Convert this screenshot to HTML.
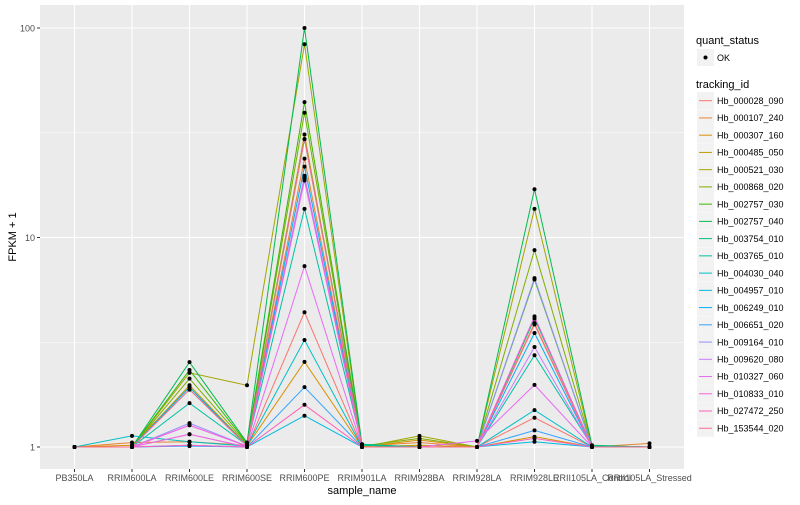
<!DOCTYPE html>
<html><head><meta charset="utf-8"><style>
body{margin:0;background:#fff;font-family:"Liberation Sans",sans-serif;}
svg text{font-family:"Liberation Sans",sans-serif;}
</style></head><body>
<svg id="chart" width="800" height="500" xmlns="http://www.w3.org/2000/svg"></svg>
<script>
const categories=["PB350LA","RRIM600LA","RRIM600LE","RRIM600SE","RRIM600PE","RRIM901LA","RRIM928BA","RRIM928LA","RRIM928LE","RRII105LA_Control","RRII105LA_Stressed"];
const seriesNames=["Hb_000028_090","Hb_000107_240","Hb_000307_160","Hb_000485_050","Hb_000521_030","Hb_000868_020","Hb_002757_030","Hb_002757_040","Hb_003754_010","Hb_003765_010","Hb_004030_040","Hb_004957_010","Hb_006249_010","Hb_006651_020","Hb_009164_010","Hb_009620_080","Hb_010327_060","Hb_010833_010","Hb_027472_250","Hb_153544_020"];
const seriesColors=["#F8766D","#EA8331","#D89000","#C09B00","#A3A500","#7CAE00","#39B600","#00BB4E","#00BF7D","#00C1A3","#00BFC4","#00BAE0","#00B0F6","#35A2FF","#9590FF","#C77CFF","#E76BF3","#FA62DB","#FF62BC","#FF6C91"];
const s01=[1,1,1.15,1,4.4,1,1,1,1.38,1,1];
const s02=[1,1.05,1.06,1.02,23.8,1.01,1.05,1,3.9,1,1.04];
const s03=[1,1.02,1.93,1.01,2.55,1,1.08,1,1.12,1,1];
const s04=[1,1,1.97,1.02,31,1,1.02,1,3.85,1,1];
const s05=[1,1,2.26,1.97,83.6,1,1.13,1,13.7,1,1];
const s06=[1,1,2.12,1.03,39.4,1.01,1.1,1,8.7,1,1];
const s07=[1,1,2.33,1.04,44.3,1.02,1,1,6.3,1,1];
const s08=[1,1,2.54,1.05,100,1.03,1,1,17.0,1.02,1];
const s09=[1,1,1.88,1.02,29.5,1.03,1,1,4.1,1.01,1];
const s10=[1,1,1.62,1.02,13.7,1.02,1,1,2.74,1.01,1];
const s11=[1,1.13,1.06,1.01,3.24,1,1,1,1.5,1,1];
const s12=[1,1,1.02,1,1.41,1,1,1,1.06,1,1];
const s13=[1,1,1.93,1.01,21.8,1,1,1,3.5,1,1];
const s14=[1,1,1.01,1,1.93,1,1,1,1.2,1,1];
const s15=[1,1,1.30,1.01,19.7,1,1,1,6.4,1,1];
const s16=[1,1,1.27,1.01,18.7,1,1,1,3.0,1,1];
const s17=[1,1,1.15,1,7.3,1,1,1.07,1.98,1,1];
const s18=[1,1,1.27,1.01,19.2,1,1,1,4.2,1,1];
const s19=[1,1,1.02,1,1.59,1,1,1,1.1,1,1];
const s20=[1,1,1.88,1.01,29.5,1,1,1,3.85,1,1];
const seriesValues=[s01,s02,s03,s04,s05,s06,s07,s08,s09,s10,s11,s12,s13,s14,s15,s16,s17,s18,s19,s20];
const yTicks=[1,10,100];
const yTickLabels=["1","10","100"];
const yMinor=[Math.sqrt(10),Math.sqrt(1000)];

const NS="http://www.w3.org/2000/svg";
const svg=document.getElementById('chart');
const P={l:40,r:684,t:5,b:469};
function xScale(i){return 74.5+57.5*i;}
function yScale(v){return 447-209.5*Math.log10(v);}
function mk(tag,attrs,parent){const e=document.createElementNS(NS,tag);for(const k in attrs)e.setAttribute(k,attrs[k]);(parent||svg).appendChild(e);return e;}

const panel=mk('rect',{x:P.l,y:P.t,width:P.r-P.l,height:P.b-P.t,fill:'#EBEBEB'});


yMinor.forEach(v=>{const l=mk('line',{x1:P.l,x2:P.r,y1:yScale(v),y2:yScale(v),stroke:'#fff','stroke-width':0.6});

});
yTicks.forEach((v,i)=>{const l=mk('line',{x1:P.l,x2:P.r,y1:yScale(v),y2:yScale(v),stroke:'#fff','stroke-width':1.1});


const tk=mk('line',{x1:P.l-3,x2:P.l,y1:yScale(v),y2:yScale(v),stroke:'#333','stroke-width':1});


const t=mk('text',{x:P.l-5,y:yScale(v)+3.5,'font-size':9,fill:'#4D4D4D','text-anchor':'end'});t.textContent=yTickLabels[i];

});
categories.forEach((c,i)=>{const x=xScale(i);
const l=mk('line',{x1:x,x2:x,y1:P.t,y2:P.b,stroke:'#fff','stroke-width':1.1});


const tk=mk('line',{x1:x,x2:x,y1:P.b,y2:P.b+3,stroke:'#333','stroke-width':1});


const t=mk('text',{x:x,y:481,'font-size':9,fill:'#4D4D4D','text-anchor':'middle'});t.textContent=c;

});
seriesValues.forEach((vals,si)=>{
const pl=mk('polyline',{points:vals.map((v,i)=>xScale(i)+','+yScale(v)).join(' '),fill:'none',stroke:seriesColors[si],'stroke-width':1});

});
seriesValues.forEach((vals,si)=>{vals.forEach((v,i)=>{
const c=mk('circle',{cx:xScale(i),cy:yScale(v),r:2,fill:'#000'});

});});
const xt=mk('text',{x:362,y:494,'font-size':11,fill:'#000','text-anchor':'middle'});xt.textContent='sample_name';


const yt=mk('text',{x:0,y:0,'font-size':11,fill:'#000','text-anchor':'middle',transform:'translate(16,237) rotate(-90)'});yt.textContent='FPKM + 1';



const qt=mk('text',{x:696,y:44,'font-size':11,fill:'#000'});qt.textContent='quant_status';


const qk=mk('rect',{x:697,y:49,width:17,height:17,fill:'#F2F2F2'});


mk('circle',{cx:705.5,cy:57.5,r:2,fill:'#000'});
const ok=mk('text',{x:717,y:61,'font-size':9,fill:'#000'});ok.textContent='OK';


const tt=mk('text',{x:696,y:88,'font-size':11,fill:'#000'});tt.textContent='tracking_id';


seriesNames.forEach((n,i)=>{const cy=100.7+17.24*i;
const g=mk('g',{});


mk('rect',{x:697,y:cy-8.5,width:17,height:17,fill:'#F2F2F2'},g);
mk('line',{x1:699,x2:712,y1:cy,y2:cy,stroke:seriesColors[i],'stroke-width':1},g);
const t=mk('text',{x:717,y:cy+3.2,'font-size':9,fill:'#000'},g);t.textContent=n;});
</script>
</body></html>
